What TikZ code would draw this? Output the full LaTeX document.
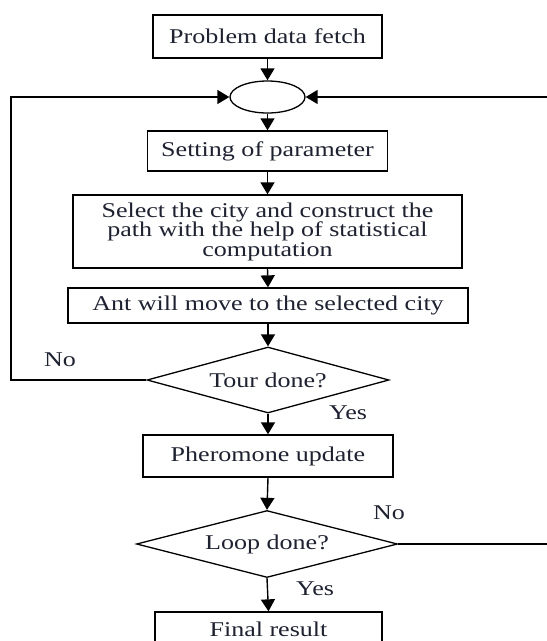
\documentclass[tikz,border=0pt]{standalone}
\usepackage{fontspec}
\setmainfont{Liberation Serif}[FakeStretch=1.24]
\usetikzlibrary{shapes.geometric,arrows.meta}
\definecolor{inkdark}{HTML}{1E2230}

\begin{document}
\begin{tikzpicture}[x=1pt,y=-1pt,
  txt/.style={font=\fontsize{21}{19.5}\selectfont, text=inkdark},
  procbox/.style={txt, draw, line width=1.3pt, inner sep=0pt, align=center},
  decision/.style={txt, draw, diamond, line width=1.3pt, inner sep=0pt},
  joinpt/.style={draw, ellipse, line width=1.3pt, inner sep=0pt,
                 minimum width=75pt, minimum height=32pt},
  flow/.style={line width=1.4pt, -{Triangle[width=14pt,length=12pt]}},
  lbl/.style={txt}
]
\useasboundingbox (0,0) rectangle (547,641);
\clip (0,0) rectangle (547,641);

% process chain
\node[procbox, minimum width=229pt, minimum height=43pt] (fetch) at (267.5,36.5) {Problem data fetch};
\node[joinpt] (join) at (267.5,97) {};
\node[procbox, minimum width=240pt, minimum height=40pt] (param) at (267.5,151) {Setting of parameter};
\node[procbox, minimum width=389pt, minimum height=73pt] (select) at (267.5,231.5)
  {Select the city and construct the\\path with the help of statistical\\computation};
\node[procbox, minimum width=400pt, minimum height=35pt] (move) at (268,305.5) {Ant will move to the selected city};
\node[decision, aspect=3.667, minimum width=242pt, minimum height=66pt] (tour) at (268,380) {Tour done?};
\node[procbox, minimum width=250pt, minimum height=42pt] (update) at (268,456) {Pheromone update};
\node[decision, aspect=3.9, minimum width=261pt, minimum height=67pt] (loop) at (267,544) {Loop done?};
\node[procbox, minimum width=227pt, minimum height=34pt] (final) at (268.5,629) {Final result};

% return points of the two loops
\coordinate (leftrail) at (11,380);
\coordinate (rightrail) at (560,544);

% main flow
\draw[flow] (fetch.south) -- (join.north);
\draw[flow] (join.south) -- (param.north);
\draw[flow] (param.south) -- (select.north);
\draw[flow] (select.south) -- (move.north);
\draw[flow] (move.south) -- (tour.north);
\draw[flow] (tour.south) -- (update.north);
\draw[flow] (update.south) -- (loop.north);
\draw[flow] (loop.south) -- (final.north);

% feedback loops
\draw[flow] (tour.west) -- (leftrail) |- (join.west);
\draw[flow] (loop.east) -- (rightrail) |- (join.east);

% branch labels
\node[lbl] (tourno) at (60,360) {No};
\node[lbl] (touryes) at (348,413) {Yes};
\node[lbl] (loopno) at (389,513) {No};
\node[lbl] (loopyes) at (315,589) {Yes};
\end{tikzpicture}
\end{document}
